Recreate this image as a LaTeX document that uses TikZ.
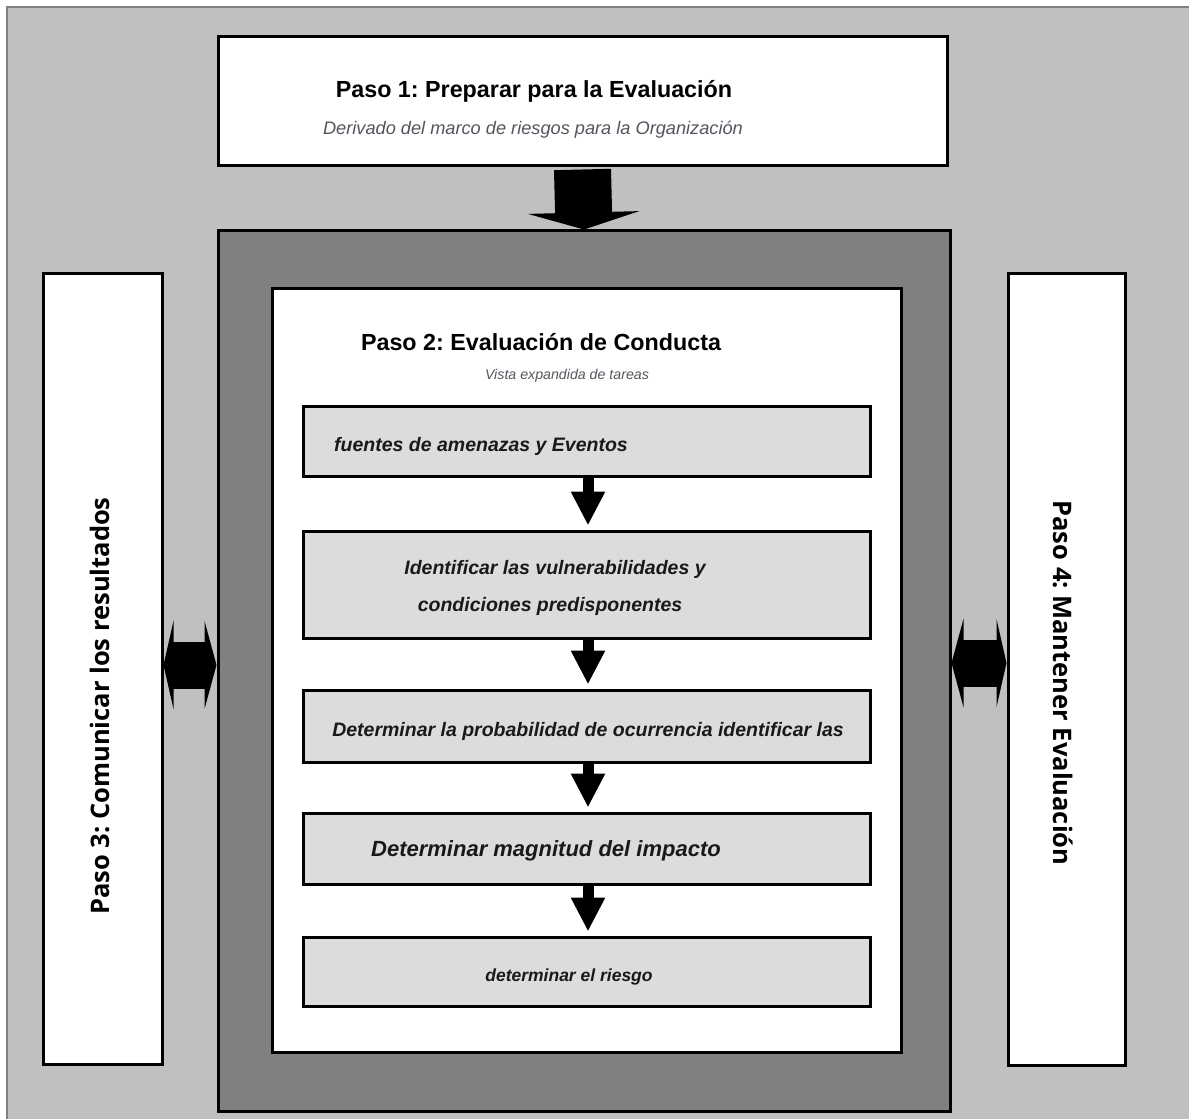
\documentclass[tikz,border=0pt]{standalone}
\usepackage{fontspec}
\setmainfont{Liberation Sans}
\newfontfamily\sidefont{Open Sans}
\usetikzlibrary{arrows.meta}
\definecolor{bggray}{HTML}{C0C0C0}
\definecolor{darkgray}{HTML}{808080}
\definecolor{taskgray}{HTML}{DCDCDC}
\definecolor{subtxt}{HTML}{55555F}
\tikzset{
  box/.style={draw=black, line width=3pt, inner sep=0pt, anchor=center},
  whitebox/.style={box, fill=white},
  taskbox/.style={box, fill=taskgray, minimum width=567pt},
  title/.style={font=\bfseries\fontsize{23.3}{27}\selectfont, inner sep=0pt},
  subtitle/.style={font=\itshape\fontsize{18.2}{21}\selectfont, text=subtxt, inner sep=0pt},
  tasktext/.style={font=\bfseries\itshape\fontsize{19.5}{23}\selectfont, text=black!90, inner sep=0pt},
  sidetext/.style={font=\sidefont\bfseries\fontsize{25.5}{30}\selectfont, inner sep=0pt},
  flowarrow/.style={line width=11pt, -{Triangle[length=34pt,width=32pt]}},
  bigarrow/.style={line width=57pt, -{Triangle[length=17pt,width=111pt]}},
  linkarrow/.style={line width=47pt, {Triangle[length=10pt,width=88pt]}-{Triangle[length=12pt,width=88pt]}}
}
\begin{document}
\frenchspacing
\begin{tikzpicture}[x=1pt, y=-1pt]
\useasboundingbox (0,0) rectangle (1189,1119);
\fill[white] (0,0) rectangle (1189,1119);
% background panel
\filldraw[fill=bggray, draw=darkgray, line width=1.5pt] (7,7) rectangle (1200,1130);

% step 1
\node[whitebox, minimum width=729pt, minimum height=129pt] (p1) at (582.5,100.5) {};
\node[title] (p1t) at (534,91) {Paso 1: Preparar para la Evaluación};
\node[subtitle] (p1s) at (533,130) {Derivado del marco de riesgos para la Organización};

% step 2 frame
\node[box, fill=darkgray, minimum width=732pt, minimum height=881pt] (p2) at (584,670.5) {};
\node[whitebox, minimum width=629pt, minimum height=764pt] (p2in) at (586.5,670) {};
\node[title] (p2t) at (541,342) {Paso 2: Evaluación de Conducta};
\node[subtitle, font=\itshape\fontsize{14.2}{17}\selectfont] (p2s) at (567,376) {Vista expandida de tareas};

% side steps
\node[whitebox, minimum width=119pt, minimum height=791pt] (p3) at (102.5,668.5) {};
\node[sidetext, rotate=90] (p3t) at (100,706) {Paso 3: Comunicar los resultados};
\node[whitebox, minimum width=117pt, minimum height=792pt] (p4) at (1066.5,669) {};
\node[sidetext, rotate=-90] (p4t) at (1063,683) {Paso 4: Mantener Evaluación};

% task boxes
\node[taskbox, minimum height=70pt] (t1) at (586.5,441) {};
\node[taskbox, minimum height=107pt] (t2) at (586.5,584.5) {};
\node[taskbox, minimum height=72pt] (t3) at (586.5,726) {};
\node[taskbox, minimum height=71pt] (t4) at (586.5,848.5) {};
\node[taskbox, minimum height=69pt] (t5) at (586.5,971.5) {};

\node[tasktext] (t1a) at (481,446) {fuentes de amenazas y Eventos};
\node[tasktext] (t2a) at (555,569) {Identificar las vulnerabilidades y};
\node[tasktext] (t2b) at (550,606) {condiciones predisponentes};
\node[tasktext] (t3a) at (588,731) {Determinar la probabilidad de ocurrencia identificar las};
\node[tasktext, font=\bfseries\itshape\fontsize{22}{26}\selectfont] (t4a) at (546,851) {Determinar magnitud del impacto};
\node[tasktext, font=\bfseries\itshape\fontsize{17.5}{21}\selectfont] (t5a) at (569,977) {determinar el riesgo};

% flow arrows between tasks
\foreach \a/\b in {t1/t2, t2/t3, t3/t4, t4/t5}
  \draw[flowarrow] ([xshift=1.5pt]\a.south) -- ([xshift=1.5pt, yshift=4pt]\b.north);

% step 1 into step 2
\draw[bigarrow] ([yshift=-3pt]p1.south) -- ([yshift=-1pt]p2.north);

% links to the side steps
\draw[linkarrow] ([yshift=3.5pt]p3.east) -- ([yshift=3.5pt]p3.east -| p2.west);
\draw[linkarrow] ([yshift=6pt]p4.west) -- ([yshift=6pt]p4.west -| p2.east);
\end{tikzpicture}
\end{document}
